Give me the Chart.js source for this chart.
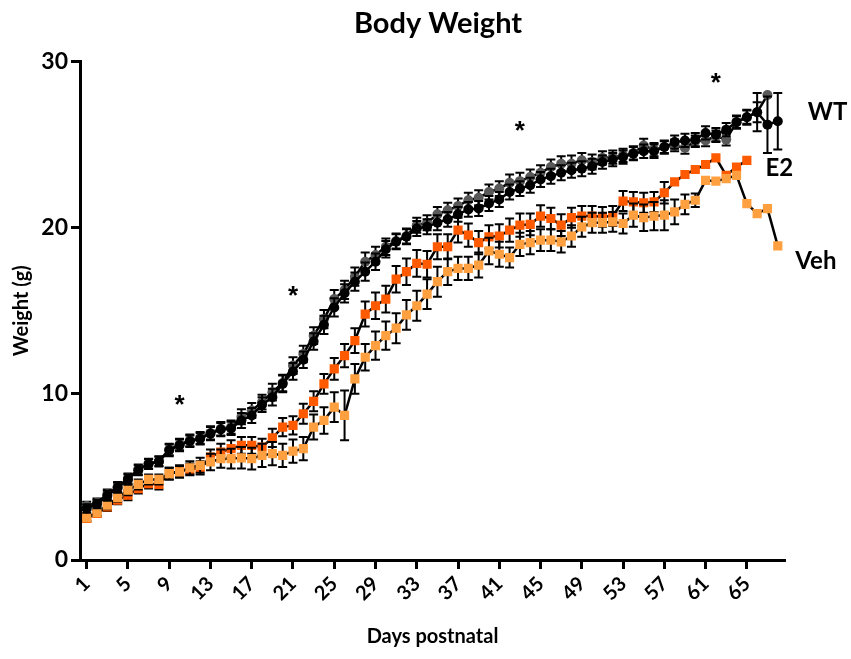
<!DOCTYPE html>
<html>
<head>
<meta charset="utf-8">
<script src="https://cdn.jsdelivr.net/npm/chart.js@4"></script>
<style>
  html, body { margin: 0; padding: 0; background: #fff; }
  #wrap { width: 851px; height: 659px; }
</style>
</head>
<body>
<div id="wrap"><canvas id="c" width="851" height="659"></canvas></div>
<script>
// Postnatal day of each measurement
const days = [1,2,3,4,5,6,7,8,9,10,11,12,13,14,15,16,17,18,19,20,21,22,23,24,25,26,27,28,29,30,31,32,33,34,
  35,36,37,38,39,40,41,42,43,44,45,46,47,48,49,50,51,52,53,54,55,56,57,58,59,60,61,62,63,64,65,66,67,68];

// Mean body weight (g) per group
const wtGrey = [3.25,3.45,3.95,4.4,4.9,5.45,5.8,5.95,6.65,6.95,7.2,7.35,7.65,7.9,8.0,8.62,9.0,9.5,10.1,10.65,
  11.7,12.4,13.5,14.5,15.7,16.25,17.05,17.95,18.35,18.85,19.2,19.5,20.15,20.3,20.8,21.05,21.3,21.65,21.8,22.15,
  22.35,22.7,22.8,23.05,23.3,23.65,23.85,23.85,24.05,23.95,24.2,24.25,24.35,24.5,24.95,24.7,24.85,24.95,24.8,25.2,
  25.25,25.5,25.3,26.35,26.65,26.95,27.98,null];
const wtBlack = [3.1,3.37,3.87,4.35,4.85,5.4,5.78,5.92,6.6,6.9,7.15,7.3,7.6,7.85,7.92,8.4,8.7,9.35,9.8,10.6,
  11.35,12.05,13.15,14.15,15.2,16.05,16.75,17.35,17.95,18.7,19.15,19.45,19.95,20.05,20.3,20.5,20.8,21.1,21.15,21.45,
  21.7,22.15,22.35,22.55,22.9,23.1,23.3,23.45,23.55,23.7,23.95,24.1,24.25,24.45,24.6,24.6,24.85,25.15,25.25,25.3,
  25.7,25.6,25.9,26.35,26.65,26.95,26.2,26.4];
const e2 = [2.5,2.8,3.2,3.6,3.9,4.3,4.6,4.55,5.2,5.35,5.45,5.55,6.2,6.5,6.7,6.9,6.9,6.8,7.35,8.0,
  8.1,8.8,9.55,10.6,11.5,12.3,13.2,14.8,15.3,15.7,16.9,17.35,17.85,17.8,18.85,18.85,19.85,19.55,19.1,19.45,
  19.5,19.85,20.15,20.2,20.7,20.55,20.15,20.6,20.7,20.7,20.65,20.7,21.6,21.55,21.5,21.55,22.1,22.75,23.2,23.5,
  23.8,24.2,23.15,23.65,24.05,null,null,null];
const veh = [2.55,2.85,3.3,3.75,4.2,4.55,4.85,4.85,5.2,5.3,5.55,5.7,5.9,6.1,6.1,6.15,6.1,6.3,6.4,6.3,
  6.55,6.7,8.0,8.4,9.2,8.7,10.9,12.2,12.9,13.5,13.95,14.75,15.3,16.0,16.75,17.35,17.55,17.55,17.75,18.6,
  18.4,18.2,19.0,19.1,19.25,19.25,19.15,19.5,20.05,20.3,20.3,20.35,20.25,20.75,20.6,20.7,20.75,20.95,21.4,21.65,
  22.85,22.8,22.95,23.15,21.45,20.85,21.15,18.9];

// Standard error of the mean per group (g)
const wtGreySem = [0.25,0.25,0.3,0.3,0.3,0.3,0.3,0.3,0.35,0.35,0.35,0.35,0.4,0.4,0.4,0.45,0.45,0.45,0.5,0.5,
  0.5,0.5,0.5,0.55,0.55,0.55,0.55,0.55,0.5,0.5,0.45,0.45,0.45,0.45,0.45,0.45,0.45,0.45,0.45,0.45,
  0.45,0.5,0.5,0.45,0.45,0.45,0.45,0.5,0.45,0.45,0.4,0.4,0.4,0.4,0.4,0.4,0.35,0.35,0.35,0.35,
  0.35,0.35,0.35,0.35,0.4,0.6,0,null];
const wtBlackSem = [0.25,0.25,0.3,0.3,0.3,0.3,0.3,0.3,0.35,0.35,0.35,0.35,0.4,0.4,0.4,0.45,0.45,0.45,0.5,0.5,
  0.5,0.5,0.5,0.55,0.55,0.55,0.55,0.55,0.5,0.5,0.45,0.45,0.45,0.45,0.45,0.45,0.45,0.45,0.45,0.45,
  0.45,0.45,0.45,0.45,0.45,0.45,0.45,0.45,0.45,0.45,0.4,0.4,0.4,0.4,0.4,0.4,0.4,0.4,0.4,0.4,
  0.4,0.4,0.4,0.4,0.45,1.15,1.7,1.7];
const e2Sem = [0.2,0.2,0.25,0.25,0.3,0.3,0.3,0.3,0.35,0.35,0.35,0.4,0.45,0.5,0.5,0.5,0.5,0.5,0.55,0.55,
  0.55,0.6,0.6,0.6,0.65,0.7,0.75,0.75,0.8,0.8,0.8,0.8,0.8,0.8,0.75,0.75,0.75,0.7,0.7,0.7,
  0.7,0.7,0.7,0.65,0.65,0.65,0.65,0.6,0.6,0.6,0.6,0.6,0.6,0.6,0.6,0.6,0.65,0,0,0,
  0,0,0,0,0,null,null,null];
const vehSem = [0.2,0.2,0.25,0.25,0.3,0.3,0.3,0.3,0.35,0.35,0.4,0.45,0.5,0.55,0.6,0.65,0.65,0.7,0.7,0.7,
  0.7,0.7,0.75,0.8,0.9,1.5,0.9,0.8,0.85,0.85,0.9,0.9,0.9,0.9,0.9,0.8,0.7,0.7,0.75,0.8,
  0.75,0.6,0.7,0.7,0.65,0.65,0.65,0.65,0.6,0.6,0.6,0.6,0.6,0.7,0.8,0.85,0.9,0.75,0.6,0.4,
  0,0,0,0,0,0,0,0];

// Labelled x ticks and y ticks
const xTickDays = [1,5,9,13,17,21,25,29,33,37,41,45,49,53,57,61,65];
const yTicks = [0,10,20,30];

// Significance markers (day, height of the star centre in g)
const starDays = [10,21,43,62];
const starHeights = [9.72,16.3,26.25,29.1];

// Group names written at the end of each curve (day, height in g)
const endLabels = ['WT','E2','Veh'];
const endLabelDays = [70.9,66.8,69.7];
const endLabelHeights = [26.95,23.6,18.0];

const FONT = 'Lato, "Open Sans", sans-serif';
const TITLE = 'Body Weight';

function pts(values) {
  return days.map((d, i) => ({ x: d, y: values[i] }));
}

const errorBars = {
  id: 'errorBars',
  beforeDatasetDraw(chart, args) {
    const ds = chart.data.datasets[args.index];
    const sem = ds.sem;
    if (!sem) return;
    const y = chart.scales.y;
    const ctx = chart.ctx;
    ctx.save();
    ctx.strokeStyle = '#000';
    ctx.lineWidth = 2;
    args.meta.data.forEach((el, i) => {
      const v = ds.data[i].y;
      const s = sem[i];
      if (v == null || !s) return;
      const x = el.x;
      const top = y.getPixelForValue(v + s);
      const bot = y.getPixelForValue(v - s);
      ctx.beginPath();
      ctx.moveTo(x, top); ctx.lineTo(x, bot);
      ctx.moveTo(x - 4.5, top); ctx.lineTo(x + 4.5, top);
      ctx.moveTo(x - 4.5, bot); ctx.lineTo(x + 4.5, bot);
      ctx.stroke();
    });
    ctx.restore();
  }
};

const annotations = {
  id: 'annotations',
  afterDraw(chart) {
    const { ctx, scales: { x, y } } = chart;
    ctx.save();
    ctx.fillStyle = '#000';
    // chart title, centred a little right of the plot centre
    ctx.textAlign = 'center';
    ctx.textBaseline = 'middle';
    ctx.font = 'bold 29px ' + FONT;
    ctx.fillText(TITLE, 438, 24);
    // significance stars
    ctx.textBaseline = 'alphabetic';
    ctx.font = 'bold 26px "Liberation Sans", Arial, sans-serif';
    starDays.forEach((d, i) => {
      ctx.fillText('*', x.getPixelForValue(d), y.getPixelForValue(starHeights[i]) + 15);
    });
    // group names
    ctx.textAlign = 'left';
    ctx.textBaseline = 'middle';
    ctx.font = 'bold 24px ' + FONT;
    endLabels.forEach((t, i) => {
      ctx.fillText(t, x.getPixelForValue(endLabelDays[i]), y.getPixelForValue(endLabelHeights[i]));
    });
    ctx.restore();
  }
};

new Chart(document.getElementById('c'), {
  type: 'line',
  data: {
    datasets: [
      { label: 'WT', data: pts(wtBlack), sem: wtBlackSem, order: 0,
        borderColor: '#000', borderWidth: 2.5, pointStyle: 'circle', pointRadius: 5,
        pointBackgroundColor: '#000', pointBorderColor: '#000', pointBorderWidth: 0 },
      { label: 'WT', data: pts(wtGrey), sem: wtGreySem, order: 1,
        borderColor: '#000', borderWidth: 2.5, pointStyle: 'circle', pointRadius: 5,
        pointBackgroundColor: '#595959', pointBorderColor: '#595959', pointBorderWidth: 0 },
      { label: 'Veh', data: pts(veh), sem: vehSem, order: 2,
        borderColor: '#000', borderWidth: 2.5, pointStyle: 'rect', pointRadius: 6.5,
        pointBackgroundColor: '#ffa040', pointBorderColor: '#ffa040', pointBorderWidth: 0 },
      { label: 'E2', data: pts(e2), sem: e2Sem, order: 3,
        borderColor: '#000', borderWidth: 2.5, pointStyle: 'rect', pointRadius: 6.5,
        pointBackgroundColor: '#ff5a00', pointBorderColor: '#ff5a00', pointBorderWidth: 0 }
    ]
  },
  options: {
    responsive: false,
    animation: false,
    events: [],
    layout: { padding: { left: 0, right: 66, top: 61.5, bottom: 0 } },
    plugins: {
      legend: { display: false },
      tooltip: { enabled: false },
      title: { display: false }
    },
    scales: {
      x: {
        type: 'linear', min: 0.35, max: 68.7,
        afterBuildTicks(scale) { scale.ticks = xTickDays.map(v => ({ value: v })); },
        afterFit(scale) { scale.height = 99; },
        border: { display: true, color: '#000', width: 3 },
        grid: { display: true, drawOnChartArea: false, drawTicks: true, tickLength: 9, tickWidth: 3, tickColor: '#000' },
        ticks: {
          color: '#000', minRotation: 45, maxRotation: 45, padding: 3, autoSkip: false,
          font: { family: FONT, size: 20, weight: 'bold' },
          callback: v => String(v)
        },
        title: {
          display: true, text: 'Days postnatal', color: '#000',
          font: { family: FONT, size: 20, weight: 'bold', lineHeight: 1.2 },
          padding: { top: 0, bottom: 10 }
        }
      },
      y: {
        type: 'linear', min: 0, max: 30,
        afterBuildTicks(scale) { scale.ticks = yTicks.map(v => ({ value: v })); },
        afterFit(scale) { scale.width = 80; },
        border: { display: true, color: '#000', width: 3 },
        grid: { display: true, drawOnChartArea: false, drawTicks: true, tickLength: 9, tickWidth: 3, tickColor: '#000' },
        ticks: {
          color: '#000', padding: 3,
          font: { family: FONT, size: 23, weight: 'bold' }
        },
        title: {
          display: true, text: 'Weight (g)', color: '#000',
          font: { family: FONT, size: 20, weight: 'bold', lineHeight: 1.2 },
          padding: { top: 10, bottom: 0 }
        }
      }
    }
  },
  plugins: [errorBars, annotations]
});
</script>
</body>
</html>
